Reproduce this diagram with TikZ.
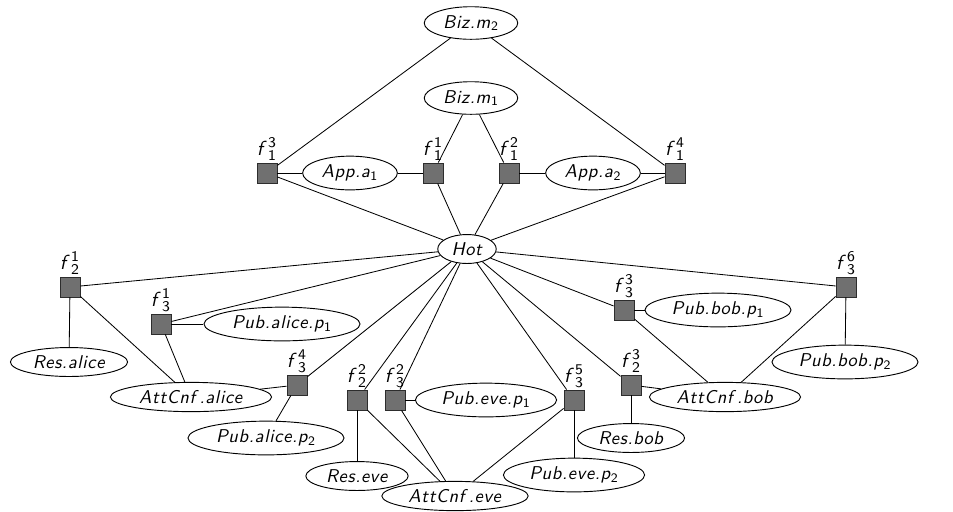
\documentclass[tikz,border=0pt]{standalone}
\usepackage{tikz}
\usetikzlibrary{shapes.geometric}
\definecolor{sqfill}{RGB}{112,112,112}
\definecolor{sqdraw}{RGB}{45,45,45}
\makeatletter
\def\lsp#1{\lsp@#1\@nil}
\def\lsp@#1{\ifx#1\@nil\else#1\kern0.35pt\expandafter\lsp@\fi}
\makeatother
\newcommand\itsf[1]{{\sffamily\itshape\lsp{#1}}}
\newcommand\fac[2]{$\textsf{\textit{f}\kern0.7pt}^{\mathsf{#1}}_{\mathsf{#2}}$}
\newcommand\vlab[2]{\itsf{#1}$_{\mathsf{#2}}$}
\newcommand\vtxt[1]{\itsf{#1}}
\tikzset{
  var/.style={draw, ellipse, inner xsep=2.8pt, inner ysep=2pt, line width=0.5pt},
  fac/.style={draw=sqdraw, fill=sqfill, rectangle, minimum size=10.8pt, inner sep=0pt, line width=0.5pt},
  flab/.style={inner sep=0.7pt, font=\fontsize{11}{13}\selectfont\sffamily},
  edge/.style={line width=0.45pt}
}
\begin{document}
\begin{tikzpicture}[x=0.54pt, y=-0.54pt, font=\fontsize{10}{12}\selectfont\sffamily]
\useasboundingbox (0,0) rectangle (953,511);
% variable nodes
\node[var] (bm2) at (471,23) {\vlab{Biz.m}{2}};
\node[var] (bm1) at (471,98) {\vlab{Biz.m}{1}};
\node[var] (aa1) at (350,173) {\vlab{App.a}{1}};
\node[var] (aa2) at (593,173) {\vlab{App.a}{2}};
\node[var] (hot) at (467,249) {\vtxt{Hot}};
\node[var] (pap1) at (282,324) {\vlab{Pub.alice.p}{1}};
\node[var] (resa) at (69,362) {\vtxt{Res.alice}};
\node[var] (atta) at (191,397) {\vtxt{AttCnf}\kern2pt\vtxt{.alice}};
\node[var] (pap2) at (266,438) {\vlab{Pub.alice.p}{2}};
\node[var] (rese) at (357,476) {\vtxt{Res.eve}};
\node[var] (atte) at (455,496) {\vtxt{AttCnf}\kern2pt\vtxt{.eve}};
\node[var] (pep1) at (486,400) {\vlab{Pub.eve.p}{1}};
\node[var] (pep2) at (574,475) {\vlab{Pub.eve.p}{2}};
\node[var] (resb) at (631,438) {\vtxt{Res.bob}};
\node[var] (attb) at (725,397) {\vtxt{AttCnf}\kern2pt\vtxt{.bob}};
\node[var] (pbp1) at (718,310) {\vlab{Pub.bob.p}{1}};
\node[var] (pbp2) at (845,362) {\vlab{Pub.bob.p}{2}};
% factor nodes
\node[fac, label={[flab]above:\fac{3}{1}}] (f13) at (267,173) {};
\node[fac, label={[flab]above:\fac{1}{1}}] (f11) at (433,173) {};
\node[fac, label={[flab]above:\fac{2}{1}}] (f12) at (509,173) {};
\node[fac, label={[flab]above:\fac{4}{1}}] (f14) at (675,173) {};
\node[fac, label={[flab]above:\fac{1}{2}}] (f21) at (70,287) {};
\node[fac, label={[flab]above:\fac{1}{3}}] (f31) at (161,324) {};
\node[fac, label={[flab]above:\fac{4}{3}}] (f34) at (297,385) {};
\node[fac, label={[flab]above:\fac{2}{2}}] (f22) at (357,400) {};
\node[fac, label={[flab]above:\fac{2}{3}}] (f32) at (395,400) {};
\node[fac, label={[flab]above:\fac{5}{3}}] (f35) at (574,400) {};
\node[fac, label={[flab]above:\fac{3}{2}}] (f23) at (631,385) {};
\node[fac, label={[flab]above:\fac{3}{3}}] (f33) at (624,310) {};
\node[fac, label={[flab]above:\fac{6}{3}}] (f36) at (846,287) {};
% edges
\begin{scope}[edge]
\draw (bm2) -- (f13);
\draw (bm2) -- (f14);
\draw (bm1) -- (f11);
\draw (bm1) -- (f12);
\draw (f13) -- (aa1);
\draw (aa1) -- (f11);
\draw (f12) -- (aa2);
\draw (aa2) -- (f14);
\draw (f13) -- (hot);
\draw (f11) -- (hot);
\draw (f12) -- (hot);
\draw (f14) -- (hot);
\draw (hot) -- (f21);
\draw (f21) -- (resa);
\draw (f21) -- (atta);
\draw (hot) -- (f31);
\draw (f31) -- (pap1);
\draw (f31) -- (atta);
\draw (hot) -- (f34);
\draw (f34) -- (atta);
\draw (f34) -- (pap2);
\draw (hot) -- (f22);
\draw (f22) -- (rese);
\draw (f22) -- (atte);
\draw (hot) -- (f32);
\draw (f32) -- (pep1);
\draw (f32) -- (atte);
\draw (hot) -- (f35);
\draw (f35) -- (pep2);
\draw (f35) -- (atte);
\draw (hot) -- (f23);
\draw (f23) -- (resb);
\draw (f23) -- (attb);
\draw (hot) -- (f33);
\draw (f33) -- (pbp1);
\draw (f33) -- (attb);
\draw (hot) -- (f36);
\draw (f36) -- (pbp2);
\draw (f36) -- (attb);
\end{scope}
\end{tikzpicture}
\end{document}
